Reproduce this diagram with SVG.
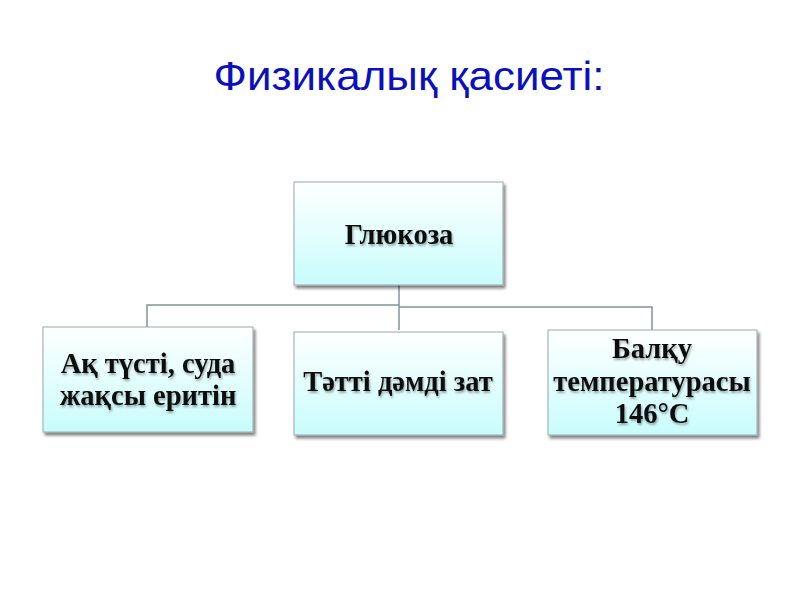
<svg xmlns="http://www.w3.org/2000/svg" width="800" height="600" viewBox="0 0 800 600">
<defs>
<linearGradient id="g" x1="0" y1="0" x2="0" y2="1">
<stop offset="0" stop-color="#ffffff"/>
<stop offset="1" stop-color="#c8fcfc"/>
</linearGradient>
<filter id="sh" x="-10%" y="-10%" width="125%" height="130%">
<feGaussianBlur in="SourceAlpha" stdDeviation="1.8"/>
<feOffset dx="2" dy="3" result="b"/>
<feComponentTransfer><feFuncA type="linear" slope="0.5"/></feComponentTransfer>
<feMerge><feMergeNode/><feMergeNode in="SourceGraphic"/></feMerge>
</filter>
<filter id="ts" x="-5%" y="-20%" width="110%" height="140%">
<feGaussianBlur in="SourceAlpha" stdDeviation="0.8"/>
<feOffset dx="1" dy="1.5"/>
<feComponentTransfer><feFuncA type="linear" slope="0.35"/></feComponentTransfer>
<feMerge><feMergeNode/><feMergeNode in="SourceGraphic"/></feMerge>
</filter>
</defs>
<style>
.box{fill:url(#g);stroke:#9aa8aa;stroke-width:1;filter:url(#sh)}
.t{font-family:"Liberation Serif","Times New Roman",serif;font-weight:bold;font-size:28.5px;fill:#111;text-anchor:middle;filter:url(#ts)}
.c{fill:none;stroke:#7f9598;stroke-width:1.5}
.title{font-family:"Liberation Sans",Arial,sans-serif;font-size:40px;fill:#0a10c0;text-anchor:middle}
</style>
<rect width="800" height="600" fill="#fff"/>
<text class="title" x="409" y="90" textLength="391" lengthAdjust="spacingAndGlyphs">Физикалық қасиеті:</text>
<g id="connectors">
<path class="c" d="M399 285 V330"/>
<path class="c" d="M399 305 H147 V327"/>
<path class="c" d="M399 307 H652 V330"/>
</g>
<g id="n-glucose">
<rect class="box" x="294" y="182" width="209" height="103"/>
<text class="t" x="399" y="244">Глюкоза</text>
</g>
<g id="n-white">
<rect class="box" x="43" y="327" width="210" height="105"/>
<text class="t" x="148" y="373">Ақ түсті, суда</text>
<text class="t" x="148" y="405">жақсы еритін</text>
</g>
<g id="n-sweet">
<rect class="box" x="294" y="332" width="209" height="103"/>
<text class="t" x="398" y="391">Тәтті дәмді зат</text>
</g>
<g id="n-melt">
<rect class="box" x="548" y="330" width="209" height="105"/>
<text class="t" x="652" y="358">Балқу</text>
<text class="t" x="652" y="391">температурасы</text>
<text class="t" x="652" y="423">146°C</text>
</g>
</svg>
